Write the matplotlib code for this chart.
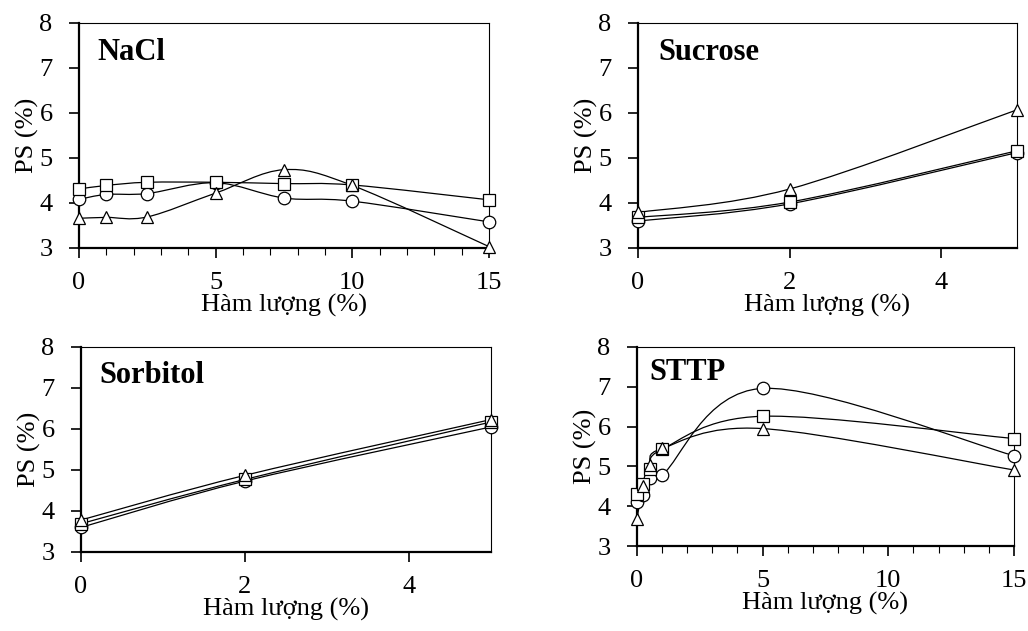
import numpy as np
import matplotlib
matplotlib.use("Agg")
import matplotlib.pyplot as plt
from matplotlib.path import Path
from matplotlib.patches import PathPatch
from matplotlib.ticker import MultipleLocator

plt.rcParams['font.family'] = ['Liberation Serif', 'DejaVu Serif']

# data
nacl_x = [0, 1, 2.5, 5, 7.5, 10, 15]
nacl_circle = [4.08, 4.19, 4.21, 4.45, 4.11, 4.04, 3.58]
nacl_square = [4.31, 4.39, 4.46, 4.46, 4.43, 4.40, 4.07]
nacl_triangle = [3.66, 3.68, 3.69, 4.22, 4.74, 4.39, 3.03]

suc_x = [0, 2, 5]
suc_circle = [3.60, 3.98, 5.12]
suc_square = [3.68, 4.02, 5.16]
suc_triangle = [3.79, 4.31, 6.07]

sor_x = [0, 2, 5]
sor_circle = [3.60, 4.73, 6.05]
sor_square = [3.69, 4.77, 6.17]
sor_triangle = [3.78, 4.87, 6.23]

sttp_x = [0, 0.25, 0.5, 1, 5, 15]
sttp_circle = [4.10, 4.27, 4.72, 4.78, 6.96, 5.27]
sttp_square = [4.30, 4.55, 4.93, 5.43, 6.26, 5.70]
sttp_triangle = [3.68, 4.52, 5.03, 5.45, 5.95, 4.91]


def smooth_line(ax, x, y):
    # Excel-style smoothed line: cubic bezier segments
    pts = np.column_stack([x, y]).astype(float)
    n = len(pts)
    verts = [pts[0]]
    codes = [Path.MOVETO]
    for i in range(n - 1):
        p0 = pts[i - 1] if i > 0 else pts[i]
        p1 = pts[i]
        p2 = pts[i + 1]
        p3 = pts[i + 2] if i + 2 < n else pts[i + 1]
        c1 = p1 + (p2 - p0) / 6.0
        c2 = p2 - (p3 - p1) / 6.0
        verts += [c1, c2, p2]
        codes += [Path.CURVE4] * 3
    ax.add_patch(PathPatch(Path(verts, codes), fill=False, lw=0.9, color='black', zorder=2))


def panel(rect, title, x, circ, sq, tri, xmax, major, minor, tx, ty):
    ax = fig.add_axes(rect)
    for ys, m, ms in [(circ, 'o', 9), (sq, 's', 8.5), (tri, '^', 9)]:
        smooth_line(ax, x, ys)
        ax.plot(x, ys, linestyle='none', marker=m, markersize=ms, markerfacecolor='white',
                markeredgecolor='black', markeredgewidth=0.9, clip_on=False, zorder=3)
    ax.set_xlim(0, xmax)
    ax.set_ylim(3, 8)
    ax.xaxis.set_major_locator(MultipleLocator(major))
    if minor:
        ax.xaxis.set_minor_locator(MultipleLocator(minor))
    ax.yaxis.set_major_locator(MultipleLocator(1))
    ax.tick_params(direction='out', labelsize=19, length=7, width=1.2)
    ax.tick_params(axis='x', pad=10)
    ax.tick_params(axis='y', pad=12)
    ax.tick_params(which='minor', direction='out', length=5, width=0.8)
    for s in ['left', 'bottom']:
        ax.spines[s].set_linewidth(1.6)
    for s in ['top', 'right']:
        ax.spines[s].set_linewidth(0.8)
    ax.set_ylabel('PS (%)', fontsize=19, labelpad=0)
    ax.set_xlabel('Hàm lượng (%)', fontsize=19, labelpad=0)
    ax.text(tx, ty, title, transform=ax.transAxes, fontsize=22, fontweight='bold', va='center', ha='left')
    return ax


fig = plt.figure(figsize=(10.28, 6.31), dpi=100)
panel([0.0768, 0.6070, 0.3989, 0.3566], 'NaCl', nacl_x, nacl_circle, nacl_square, nacl_triangle, 15, 5, 1, 0.046, 0.87)
panel([0.6206, 0.6070, 0.3687, 0.3566], 'Sucrose', suc_x, suc_circle, suc_square, suc_triangle, 5, 2, None, 0.053, 0.87)
panel([0.0788, 0.1252, 0.3988, 0.3249], 'Sorbitol', sor_x, sor_circle, sor_square, sor_triangle, 5, 2, None, 0.046, 0.86)
panel([0.6196, 0.1347, 0.3667, 0.3154], 'STTP', sttp_x, sttp_circle, sttp_square, sttp_triangle, 15, 5, 1, 0.032, 0.87)

fig.savefig('out.png', dpi=100)
